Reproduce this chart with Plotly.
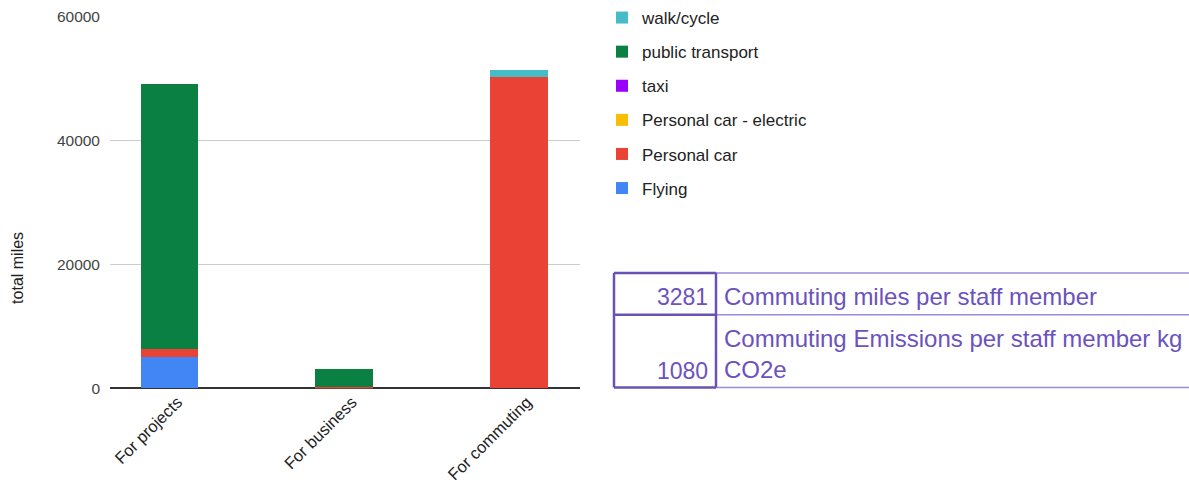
import plotly.graph_objects as go

W, H = 1189, 490

# --- data -------------------------------------------------------------
categories = ["For projects", "For business", "For commuting"]

flying = [5000, 0, 0]
personal_car = [1400, 300, 50300]
personal_car_electric = [0, 0, 0]
taxi = [0, 0, 0]
public_transport = [42800, 2900, 0]
walk_cycle = [0, 0, 1100]

series_names = ["Flying", "Personal car", "Personal car - electric",
                "taxi", "public transport", "walk/cycle"]
series_values = [flying, personal_car, personal_car_electric,
                 taxi, public_transport, walk_cycle]
series_colors = ["#4285F4", "#EA4335", "#FBBC04",
                 "#9900FF", "#0B8043", "#46BDC6"]

y_ticks = [0, 20000, 40000, 60000]

table_values = ["3281", "1080"]
table_labels = ["Commuting miles per staff member",
                "Commuting Emissions per staff member kg<br>CO2e"]

# --- helpers: pixel -> paper ------------------------------------------
def px(x):
    return x / W


def py(y):
    return (H - y) / H


fig = go.Figure()

n = len(series_names)
for i, (name, vals, col) in enumerate(zip(series_names, series_values, series_colors)):
    fig.add_trace(go.Bar(
        x=categories, y=vals, name=name,
        marker=dict(color=col, line=dict(width=0)),
        legendgroup=f"g{i}",
        legendrank=n - i,  # top of the stack listed first
    ))

font_family = "Liberation Sans, Arial, sans-serif"

fig.update_layout(
    width=W, height=H,
    margin=dict(l=0, r=0, t=0, b=0),
    paper_bgcolor="white", plot_bgcolor="white",
    barmode="stack", bargap=0.67,
    font=dict(family=font_family, size=15, color="#222"),
    showlegend=True,
    legend=dict(
        x=px(602), y=py(-2), xanchor="left", yanchor="top",
        traceorder="grouped", tracegroupgap=9,
        font=dict(size=17, color="#222"),
        bgcolor="rgba(0,0,0,0)",
    ),
    xaxis=dict(
        domain=[px(110), px(580)],
        range=[-0.34, 2.35],
        tickangle=-45,
        tickfont=dict(size=16.5, color="#222"),
        ticklabelshift=8,
        showgrid=False, showline=False, zeroline=False,
        ticks="", automargin=False,
    ),
    yaxis=dict(
        domain=[py(388), py(15)],
        range=[0, 60000],
        tickvals=y_ticks,
        ticktext=[str(v) for v in y_ticks],
        tickfont=dict(size=15.5, color="#444"),
        showgrid=True, gridcolor="#cccccc", gridwidth=1,
        zeroline=True, zerolinecolor="#333333", zerolinewidth=1.5,
        showline=False, ticks="", ticklabelstandoff=9,
        automargin=False,
    ),
)

# --- summary table drawn beside the chart -------------------------------
light = "#9C8BD8"
dark = "#6A52B5"
x0, x1, x2 = 614, 716, 1189
y0, y1, y2 = 272, 314, 387

shapes = []
for yy in (y0, y1, y2):
    shapes.append(dict(type="line", xref="paper", yref="paper",
                       x0=px(x1), x1=px(x2), y0=py(yy), y1=py(yy),
                       line=dict(color=light, width=1.5)))
# darker box around the value column
for yy in (y0, y1, y2):
    shapes.append(dict(type="line", xref="paper", yref="paper",
                       x0=px(x0), x1=px(x1), y0=py(yy), y1=py(yy),
                       line=dict(color=dark, width=2.5)))
for xx in (x0, x1):
    shapes.append(dict(type="line", xref="paper", yref="paper",
                       x0=px(xx), x1=px(xx), y0=py(y0), y1=py(y2),
                       line=dict(color=dark, width=2.5)))

txt_color = "#6B52BE"
nfont = dict(family=font_family, size=23, color=txt_color)
tfont = dict(family=font_family, size=24, color=txt_color)
annotations = [
    # y-axis title
    dict(xref="paper", yref="paper", x=px(18), y=py(267), text="total miles",
         textangle=-90, xanchor="center", yanchor="middle", showarrow=False,
         font=dict(family=font_family, size=16, color="#222")),
    dict(xref="paper", yref="paper", x=px(710), y=py(296), text=table_values[0],
         xanchor="right", yanchor="middle", showarrow=False, font=nfont),
    dict(xref="paper", yref="paper", x=px(722), y=py(296), text=table_labels[0],
         xanchor="left", yanchor="middle", showarrow=False, font=tfont),
    dict(xref="paper", yref="paper", x=px(710), y=py(371), text=table_values[1],
         xanchor="right", yanchor="middle", showarrow=False, font=nfont),
    dict(xref="paper", yref="paper", x=px(722), y=py(353), text=table_labels[1],
         xanchor="left", yanchor="middle", align="left", showarrow=False, font=tfont),
]

fig.update_layout(shapes=shapes, annotations=annotations)

fig.write_html("out.html")
